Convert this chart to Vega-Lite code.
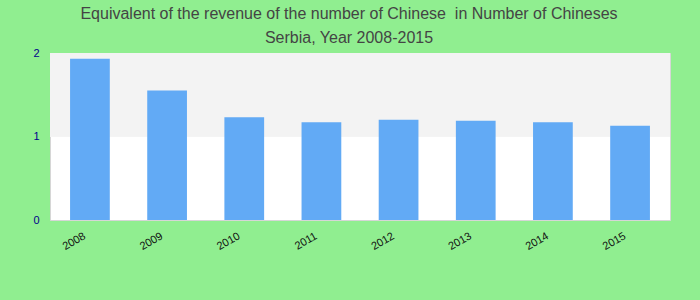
{
  "$schema": "https://vega.github.io/schema/vega-lite/v6.json",
  "width": 620,
  "height": 167,
  "autosize": {"type": "none"},
  "padding": {"left": 50, "top": 53, "right": 30, "bottom": 80},
  "background": "#90EE90",
  "title": {
    "text": ["Equivalent of the revenue of the number of Chinese\u00a0 in Number of Chineses", "Serbia, Year 2008-2015"],
    "font": "Liberation Sans",
    "fontSize": 16,
    "fontWeight": "normal",
    "color": "#444444",
    "anchor": "middle",
    "lineHeight": 24,
    "offset": 1,
    "dx": -11
  },
  "config": {
    "view": {"stroke": "#d6d6d6", "strokeWidth": 1, "fill": "white"},
    "font": "Liberation Sans"
  },
  "data": {
    "values": [
      {"year": "2008", "value": 1.93},
      {"year": "2009", "value": 1.55},
      {"year": "2010", "value": 1.23},
      {"year": "2011", "value": 1.17},
      {"year": "2012", "value": 1.2},
      {"year": "2013", "value": 1.19},
      {"year": "2014", "value": 1.17},
      {"year": "2015", "value": 1.13}
    ]
  },
  "layer": [
    {
      "mark": {"type": "rect", "color": "#f3f3f3"},
      "encoding": {
        "y": {"datum": 1, "type": "quantitative"},
        "y2": {"datum": 2}
      }
    },
    {
      "mark": {"type": "bar", "color": "#62aaf5"},
      "encoding": {
        "x": {
          "field": "year",
          "type": "nominal",
          "scale": {"paddingInner": 0.485, "paddingOuter": 0.26},
          "axis": {
            "title": null,
            "labelAngle": -30,
            "labelAlign": "right",
            "labelBaseline": "middle",
            "labelPadding": 15,
            "labelOffset": -5,
            "labelFontSize": 11,
            "labelColor": "#111111",
            "ticks": false,
            "domain": false
          }
        },
        "y": {
          "field": "value",
          "type": "quantitative",
          "scale": {"domain": [0, 2], "nice": false},
          "axis": {
            "title": null,
            "values": [0, 1, 2],
            "format": ".0f",
            "labelOverlap": false,
            "labelFlush": false,
            "grid": false,
            "ticks": false,
            "domain": false,
            "labelPadding": 11,
            "labelFontSize": 11,
            "labelColor": "#00008b"
          }
        }
      }
    }
  ]
}
